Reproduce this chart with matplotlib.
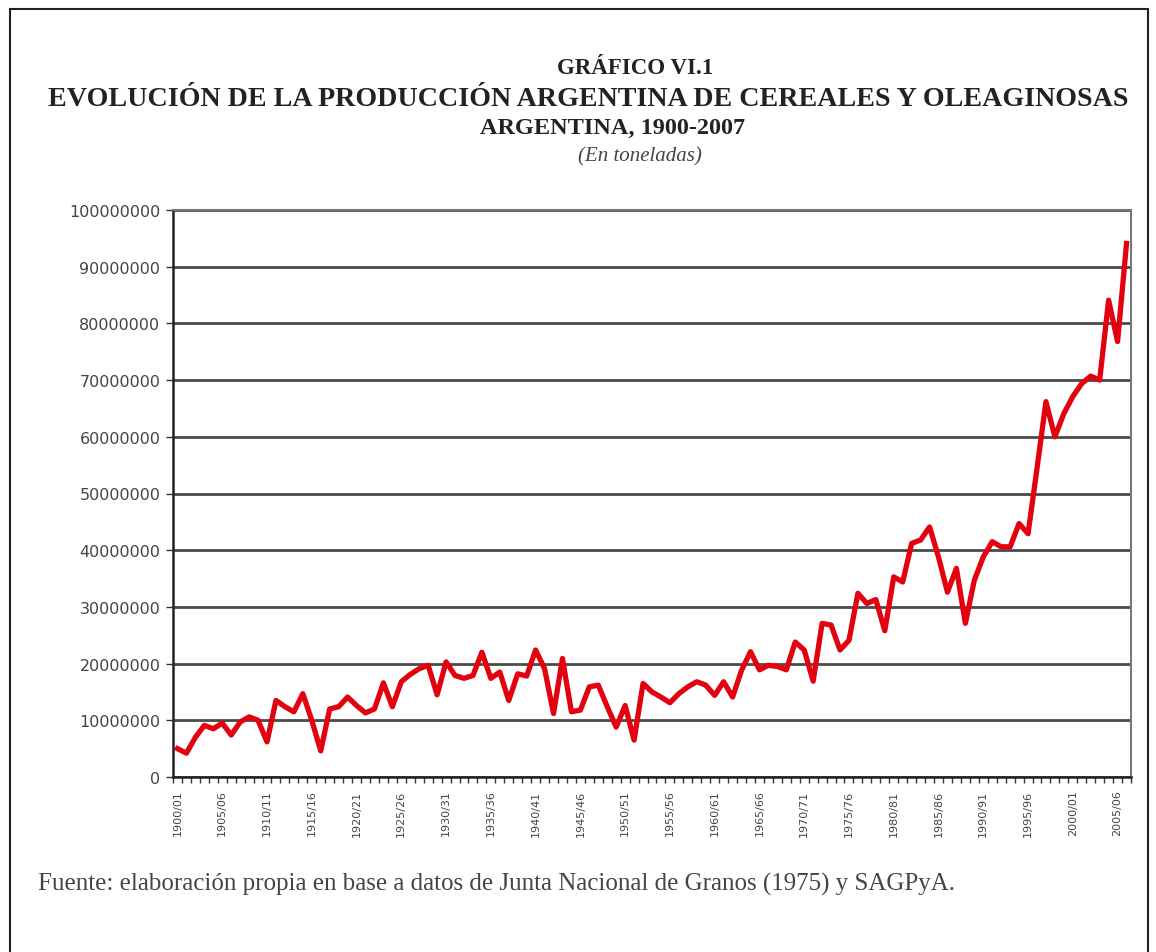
import matplotlib
matplotlib.use("Agg")
from matplotlib import pyplot as plt
from matplotlib.patches import Rectangle
from matplotlib.ticker import FixedLocator, FuncFormatter

# Campaigns 1900/01 .. 2006/07
years = list(range(1900, 2007))
campaigns = [f"{y}/{str(y + 1)[-2:]}" for y in years]

# Production in millions of tonnes
production_m = [
    5.0, 4.2, 7.0, 9.1, 8.5, 9.5, 7.4, 9.7, 10.6, 10.0,
    6.2, 13.5, 12.4, 11.5, 14.7, 10.0, 4.6, 12.0, 12.4, 14.1,
    12.6, 11.3, 12.0, 16.6, 12.4, 16.8, 18.1, 19.1, 19.7, 14.5,
    20.3, 17.9, 17.4, 17.9, 22.0, 17.4, 18.5, 13.5, 18.2, 17.8,
    22.4, 19.1, 11.2, 20.9, 11.5, 11.8, 15.9, 16.2, 12.4, 8.8,
    12.6, 6.5, 16.5, 15.0, 14.1, 13.1, 14.7, 15.9, 16.8, 16.2,
    14.4, 16.8, 14.1, 18.8, 22.1, 18.9, 19.7, 19.5, 18.9, 23.8,
    22.4, 16.9, 27.1, 26.8, 22.4, 24.1, 32.4, 30.6, 31.3, 25.8,
    35.3, 34.4, 41.2, 41.8, 44.1, 38.8, 32.6, 36.8, 27.1, 34.7,
    38.8, 41.5, 40.6, 40.6, 44.7, 42.9, 54.4, 66.2, 60.0, 64.1,
    67.1, 69.4, 70.7, 70.0, 84.1, 76.8, 94.1,
]
production = [v * 1e6 for v in production_m]

title_lines = [
    "GRÁFICO VI.1",
    "EVOLUCIÓN DE LA PRODUCCIÓN ARGENTINA DE CEREALES Y OLEAGINOSAS",
    "ARGENTINA, 1900-2007",
]
subtitle = "(En toneladas)"
source = ("Fuente: elaboración propia en base a datos de Junta Nacional "
          "de Granos (1975) y SAGPyA.")

W, H = 1156, 953
fig = plt.figure(figsize=(W / 100, H / 100), dpi=100)
fig.patch.set_facecolor("white")

# outer frame of the scanned page
fig.add_artist(Rectangle((10 / W, -0.02), 1138 / W, 1 - 10 / H + 0.02,
                         transform=fig.transFigure, fill=False,
                         edgecolor="#222222", linewidth=1.5))

serif = ["Liberation Serif", "DejaVu Serif"]
fig.text(635 / W, 1 - 69 / H, title_lines[0], ha="center", va="center",
         family=serif, weight="bold", fontsize=16.5, color="#222222")
fig.text(588 / W, 1 - 99 / H, title_lines[1], ha="center", va="center",
         family=serif, weight="bold", fontsize=20.2, color="#222222")
fig.text(613 / W, 1 - 128 / H, title_lines[2], ha="center", va="center",
         family=serif, weight="bold", fontsize=17.5, color="#222222")
fig.text(640 / W, 1 - 157 / H, subtitle, ha="center", va="center",
         family=serif, style="italic", fontsize=15, color="#444444")

ax = fig.add_axes([173 / W, 1 - 778 / H, (1131 - 173) / W, (778 - 211) / H])
x = list(range(len(years)))
ax.plot(x, production, color="#e3000f", linewidth=3.8, solid_joinstyle="round",
        zorder=3)

ax.set_xlim(-0.5, len(years) - 0.5)
ax.set_ylim(0, 100000000)
ax.set_yticks(range(0, 100000001, 10000000))
ax.yaxis.set_major_formatter(FuncFormatter(lambda v, p: f"{int(v)}"))
ax.grid(axis="y", color="#4a4a4a", linewidth=2, zorder=1)

label_pos = x[::5]
ax.xaxis.set_major_locator(FixedLocator(label_pos))
ax.set_xticklabels([campaigns[i] for i in label_pos], rotation=90,
                   fontsize=8, color="#444444", family="DejaVu Sans")
ax.xaxis.set_minor_locator(FixedLocator([i - 0.5 for i in range(len(years) + 1)]))
ax.tick_params(axis="x", which="major", length=0, pad=9)
ax.tick_params(axis="x", which="minor", length=4, width=1, color="#333333")
ax.tick_params(axis="y", length=5, width=1, color="#333333", pad=4,
               labelsize=11.5, labelcolor="#444444")

for side in ["left", "bottom"]:
    ax.spines[side].set_color("#222222")
    ax.spines[side].set_linewidth(1.8)
for side in ["top", "right"]:
    ax.spines[side].set_color("#777777")
    ax.spines[side].set_linewidth(1.5)

fig.text(38 / W, 1 - 884 / H, source, ha="left", va="center",
         family=serif, fontsize=18, color="#444444")

fig.savefig("out.png", dpi=100, facecolor="white")
